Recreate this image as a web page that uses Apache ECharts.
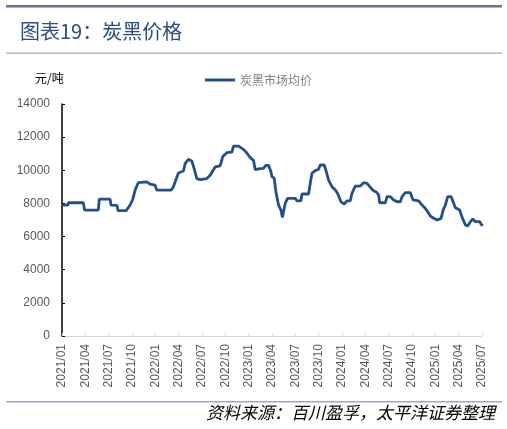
<!DOCTYPE html>
<html>
<head>
<meta charset="utf-8">
<script src="https://cdn.jsdelivr.net/npm/echarts@6/dist/echarts.min.js"></script>
<style>
  html, body { margin: 0; padding: 0; background: #fff; }
  #chart { width: 507px; height: 429px; }
</style>
</head>
<body>
<div id="chart"></div>
<script>
// 月序号（0 = 2021/01），读图估计的价格点
var monthIdx = [
  0, 0.77, 0.8, 2.74, 2.9, 4.67, 4.8, 6.18, 6.3, 7.08, 7.2, 8.24, 8.75, 9.1, 9.4, 9.82,
  10.9, 11.33, 11.97, 12.19, 14.03, 14.32, 14.54, 14.97, 15.61, 15.83, 16.25, 16.69, 16.99, 17.34,
  17.76, 18.62, 19.05, 19.69, 20.33, 20.68, 21.2, 21.84, 22.05, 22.69, 23.33, 23.77, 24.2, 24.62,
  24.84, 25.48, 25.9, 26.25, 26.55, 26.86, 26.99, 27.28, 27.5, 27.84, 28.15, 28.35, 28.48, 28.7,
  29, 29.99, 30.2, 30.72, 30.85, 31.7, 31.92, 32.14, 32.56, 32.99, 33.2, 33.72, 33.98, 34.27,
  34.71, 35.14, 35.43, 35.87, 36.29, 36.64, 37.07, 37.28, 37.71, 38.35, 38.78, 39.22, 39.64,
  40.06, 40.41, 40.71, 40.84, 41.57, 41.79, 42.21, 42.64, 43.08, 43.5, 43.72, 44.14, 44.79,
  45.13, 45.86, 46.29, 46.72, 47.01, 47.36, 47.79, 48.22, 48.74, 49, 49.29, 49.59, 50.02,
  50.36, 50.58, 51.13, 51.44, 51.87, 52.16, 52.51, 52.81, 53.15, 53.71, 53.89, 54.1
];
var priceVals = [
  7900, 7900, 8040, 8040, 7600, 7600, 8260, 8260, 7900, 7880, 7560, 7560, 7900, 8250, 8800, 9260,
  9300, 9160, 9100, 8800, 8800, 9000, 9300, 9840, 9960, 10400, 10660, 10560, 10100, 9500,
  9440, 9500, 9700, 10200, 10260, 10840, 11060, 11100, 11460, 11460, 11260, 11040, 10760, 10600,
  10040, 10100, 10120, 10300, 10300, 9920, 9620, 9520, 8710, 7900, 7600, 7160, 7500, 8000,
  8310, 8310, 8160, 8160, 8570, 8570, 9210, 9820, 9980, 10060, 10320, 10320, 9920, 9410,
  9010, 8810, 8610, 8100, 7960, 8160, 8160, 8610, 9050, 9050, 9250, 9210, 8970,
  8770, 8690, 8510, 8040, 8040, 8410, 8410, 8210, 8100, 8100, 8410, 8650, 8650,
  8210, 8150, 7900, 7700, 7500, 7240, 7100, 7000, 7100, 7600, 7900, 8410, 8410,
  8010, 7740, 7600, 7160, 6700, 6640, 6900, 7060, 6900, 6900, 6740, 6650
];
var yTicks = [0, 2000, 4000, 6000, 8000, 10000, 12000, 14000];
var seriesName = '炭黑市场均价';

var seriesData = [];
for (var i = 0; i < monthIdx.length; i++) {
  seriesData.push([monthIdx[i], priceVals[i]]);
}

var cjk = '"Noto Sans CJK SC", sans-serif';
var chart = echarts.init(document.getElementById('chart'));
chart.setOption({
  animation: false,
  backgroundColor: '#fff',
  grid: { left: 62, right: 25, top: 104, bottom: 93 },
  legend: {
    data: [seriesName],
    left: 200,
    top: 69,
    icon: 'rect',
    itemWidth: 30,
    itemHeight: 3,
    itemGap: 4,
    textStyle: { fontFamily: cjk, fontSize: 12, color: '#7f7f7f' }
  },
  xAxis: {
    type: 'value',
    min: 0,
    max: 54,
    interval: 3,
    axisLine: { show: true, lineStyle: { color: '#d9d9d9', width: 1 } },
    axisTick: { show: true, inside: true, length: 3, lineStyle: { color: '#d9d9d9' } },
    splitLine: { show: false },
    axisLabel: {
      rotate: 90,
      margin: 8,
      fontFamily: '"Liberation Sans", Arial, sans-serif',
      fontSize: 12,
      color: '#595959',
      formatter: function (v) {
        var y = 2021 + Math.floor(v / 12);
        var m = (v % 12) + 1;
        return y + '/' + (m < 10 ? '0' + m : m);
      }
    }
  },
  yAxis: {
    type: 'value',
    min: yTicks[0],
    max: yTicks[yTicks.length - 1],
    interval: 2000,
    axisLine: { show: true, lineStyle: { color: '#000', width: 1.5 } },
    axisTick: { show: true, inside: true, length: 3, lineStyle: { color: '#000' } },
    splitLine: { show: false },
    axisLabel: {
      margin: 12,
      fontFamily: '"Liberation Sans", Arial, sans-serif',
      fontSize: 12,
      color: '#595959',
      formatter: function (v) { return String(v); }
    }
  },
  series: [{
    name: seriesName,
    type: 'line',
    data: seriesData,
    symbol: 'none',
    color: '#23508c',
    lineStyle: { width: 2.8, color: '#23508c' }
  }],
  graphic: [
    { type: 'rect', shape: { x: 6, y: 5, width: 496, height: 2.5 }, style: { fill: '#6e6f9e' } },
    { type: 'text', left: 20, top: 21, style: { text: '图表19：炭黑价格', fontFamily: cjk, fontSize: 20, fill: '#2e4d7d' } },
    { type: 'rect', shape: { x: 6, y: 52.5, width: 496, height: 1.2 }, style: { fill: '#a3a6cc' } },
    { type: 'text', left: 35, top: 72, style: { text: '元/吨', fontFamily: cjk, fontSize: 12, fill: '#000' } },
    { type: 'rect', shape: { x: 6, y: 401, width: 496, height: 1.5 }, style: { fill: '#a3a6cc' } },
    { type: 'text', right: 12, top: 404, style: { text: '资料来源：百川盈孚，太平洋证券整理', fontFamily: cjk, fontSize: 17, fontStyle: 'italic', fill: '#000' } }
  ]
});
</script>
</body>
</html>
